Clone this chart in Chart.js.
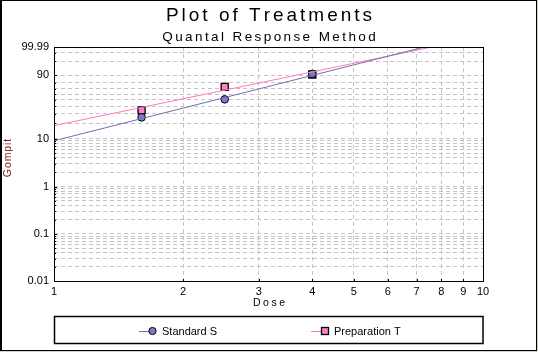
<!DOCTYPE html>
<html>
<head>
    <script src="https://cdn.jsdelivr.net/npm/chart.js@4.4.0/dist/chart.umd.min.js"></script>
    <title>Plot of Treatments</title>
    <style>
        body { margin: 0; background: #fff; }
    </style>
</head>
<body>
<canvas id="myChart" width="538" height="352"></canvas>

<script>
    // observed responses (percent) at each dose
    var doses = [1.6, 2.5, 4];
    var standardPct = [25.6, 51, 91.6];
    var preparationPct = [34, 73, 91];

    // fitted lines, read where they enter and leave the plot
    var standardFitDose = [1, 7.3];
    var standardFitPct = [9.0, 99.99];
    var preparationFitDose = [1, 7.6];
    var preparationFitPct = [17.9, 99.99];

    var xTicks = [1, 2, 3, 4, 5, 6, 7, 8, 9, 10];
    var yLabelPct = [0.01, 0.1, 1, 10, 90, 99.99];
    var yGridPct = [0.01, 0.02, 0.03, 0.04, 0.05, 0.06, 0.07, 0.08, 0.09,
                    0.1, 0.2, 0.3, 0.4, 0.5, 0.6, 0.7, 0.8, 0.9,
                    1, 2, 3, 4, 5, 6, 7, 8, 9,
                    10, 20, 30, 40, 50, 60, 70, 80, 90,
                    99, 99.9, 99.99];

    var seriesNames = ['Standard S', 'Preparation T'];

    var blueLine = '#6f6fb5';
    var blueFill = '#7c7cc4';
    var pinkLine = '#ff78c0';
    var pinkFill = '#ff80c4';

    // gompit transform: ln(-ln(1-p))
    function gompit(pct) {
        return Math.log(-Math.log(1 - pct / 100));
    }

    function toPoints(xs, pcts) {
        return xs.map(function (x, i) { return {x: x, y: gompit(pcts[i])}; });
    }

    // draw text with extra spacing between letters
    function spacedText(ctx, text, x, y, spacing) {
        var chars = text.split('');
        var widths = chars.map(function (c) { return ctx.measureText(c).width; });
        var total = widths.reduce(function (a, b) { return a + b; }, 0) + spacing * (chars.length - 1);
        var cx = x - total / 2;
        ctx.textAlign = 'left';
        chars.forEach(function (c, i) {
            ctx.fillText(c, cx, y);
            cx += widths[i] + spacing;
        });
    }

    var FONT = '"Liberation Sans", Arial, sans-serif';

    var decorPlugin = {
        id: 'decor',
        beforeDraw: function (chart) {
            var ctx = chart.ctx;
            ctx.save();
            ctx.fillStyle = '#fff';
            ctx.fillRect(0, 0, chart.width, chart.height);
            ctx.restore();
        },
        afterDraw: function (chart) {
            var ctx = chart.ctx;
            var a = chart.chartArea;
            var ys = chart.scales.y;
            var xs = chart.scales.x;
            ctx.save();

            // plot frame
            ctx.strokeStyle = '#000';
            ctx.lineWidth = 1;
            ctx.strokeRect(Math.round(a.left) + 0.5, Math.round(a.top) + 0.5,
                Math.round(a.right - a.left), Math.round(a.bottom - a.top));

            // small inward tick marks
            ctx.beginPath();
            yGridPct.forEach(function (p) {
                var py = Math.round(ys.getPixelForValue(gompit(p))) + 0.5;
                var len = yLabelPct.indexOf(p) >= 0 ? 3 : 2;
                ctx.moveTo(a.left, py);
                ctx.lineTo(a.left + len, py);
            });
            xTicks.forEach(function (v) {
                var px = Math.round(xs.getPixelForValue(v)) + 0.5;
                ctx.moveTo(px, a.bottom);
                ctx.lineTo(px, a.bottom - 2);
            });
            ctx.stroke();

            // titles
            ctx.fillStyle = '#000';
            ctx.textBaseline = 'alphabetic';
            ctx.font = '19px ' + FONT;
            spacedText(ctx, 'Plot of Treatments', 269, 21, 3);
            ctx.font = '13.5px ' + FONT;
            spacedText(ctx, 'Quantal Response Method', 269, 41, 2.4);

            // axis titles
            ctx.textBaseline = 'middle';
            ctx.font = '10.5px ' + FONT;
            spacedText(ctx, 'Dose', 269, 303, 2.5);
            ctx.save();
            ctx.translate(8, 158);
            ctx.rotate(-Math.PI / 2);
            ctx.fillStyle = '#7a1010';
            spacedText(ctx, 'Gompit', 0, 0, 0.9);
            ctx.restore();

            // legend box
            ctx.strokeStyle = '#000';
            ctx.lineWidth = 1.5;
            ctx.strokeRect(54.5, 316.5, 428.5, 27);

            var ly = 331;
            ctx.lineWidth = 1;
            ctx.strokeStyle = blueLine;
            ctx.beginPath();
            ctx.moveTo(139, ly + 0.5);
            ctx.lineTo(150, ly + 0.5);
            ctx.stroke();
            ctx.beginPath();
            ctx.arc(152.5, ly, 3.6, 0, Math.PI * 2);
            ctx.fillStyle = blueFill;
            ctx.fill();
            ctx.strokeStyle = '#000';
            ctx.stroke();

            ctx.strokeStyle = pinkLine;
            ctx.beginPath();
            ctx.moveTo(311, ly + 0.5);
            ctx.lineTo(322, ly + 0.5);
            ctx.stroke();
            ctx.fillStyle = pinkFill;
            ctx.fillRect(321.5, ly - 3.5, 7, 7);
            ctx.strokeStyle = '#000';
            ctx.lineWidth = 1.3;
            ctx.strokeRect(321.5, ly - 3.5, 7, 7);

            ctx.fillStyle = '#000';
            ctx.font = '11px ' + FONT;
            ctx.textAlign = 'left';
            ctx.fillText(seriesNames[0], 162, ly + 1);
            ctx.fillText(seriesNames[1], 334, ly + 1);

            // outer frame of the picture
            ctx.fillStyle = '#000';
            ctx.fillRect(0, 0, 2, 351);
            ctx.fillRect(0, 0, 537, 1);
            ctx.fillRect(536, 0, 1, 351);
            ctx.fillRect(0, 350, 537, 1);
            ctx.fillStyle = '#d4d0c8';
            ctx.fillRect(537, 0, 1, 352);
            ctx.fillRect(0, 351, 538, 1);

            ctx.restore();
        }
    };

    var ctx = document.getElementById('myChart').getContext('2d');
    var myChart = new Chart(ctx, {
        type: 'line',
        data: {
            datasets: [
                {
                    label: seriesNames[0] + ' fit',
                    data: toPoints(standardFitDose, standardFitPct),
                    borderColor: blueLine,
                    borderWidth: 1,
                    pointRadius: 0
                },
                {
                    label: seriesNames[1] + ' fit',
                    data: toPoints(preparationFitDose, preparationFitPct),
                    borderColor: pinkLine,
                    borderWidth: 1,
                    pointRadius: 0
                },
                {
                    label: seriesNames[0],
                    data: toPoints(doses, standardPct),
                    showLine: false,
                    pointStyle: 'circle',
                    pointRadius: 3.8,
                    pointBackgroundColor: blueFill,
                    pointBorderColor: '#000',
                    pointBorderWidth: 1
                },
                {
                    label: seriesNames[1],
                    data: toPoints(doses, preparationPct),
                    showLine: false,
                    pointStyle: 'rect',
                    pointRadius: 5,
                    pointBackgroundColor: pinkFill,
                    pointBorderColor: '#000',
                    pointBorderWidth: 1.3
                }
            ]
        },
        options: {
            responsive: false,
            animation: false,
            devicePixelRatio: 1,
            layout: {
                padding: {top: 47, left: 0, right: 55, bottom: 0}
            },
            plugins: {
                legend: {display: false},
                title: {display: false},
                tooltip: {enabled: false}
            },
            scales: {
                x: {
                    type: 'logarithmic',
                    min: 1,
                    max: 10,
                    afterBuildTicks: function (scale) {
                        scale.ticks = xTicks.map(function (v) { return {value: v}; });
                    },
                    afterFit: function (scale) { scale.height = 71; },
                    ticks: {
                        autoSkip: false,
                        maxRotation: 0,
                        padding: 4,
                        color: '#000',
                        font: {family: FONT, size: 11},
                        callback: function (v, i) { return String(xTicks[i]); }
                    },
                    grid: {
                        color: '#c4c4c4',
                        drawTicks: false
                    },
                    border: {display: false, dash: [4, 3]}
                },
                y: {
                    type: 'linear',
                    min: gompit(0.01),
                    max: gompit(99.99),
                    afterBuildTicks: function (scale) {
                        scale.ticks = yGridPct.map(function (p) { return {value: gompit(p)}; });
                    },
                    afterFit: function (scale) { scale.width = 54; },
                    ticks: {
                        autoSkip: false,
                        padding: 5,
                        color: '#000',
                        font: {family: FONT, size: 11},
                        callback: function (v, i) {
                            var p = yGridPct[i];
                            return yLabelPct.indexOf(p) >= 0 ? String(p) : '';
                        }
                    },
                    grid: {
                        color: '#c4c4c4',
                        drawTicks: false
                    },
                    border: {display: false, dash: [4, 3]}
                }
            }
        },
        plugins: [decorPlugin]
    });
</script>

</body>
</html>
